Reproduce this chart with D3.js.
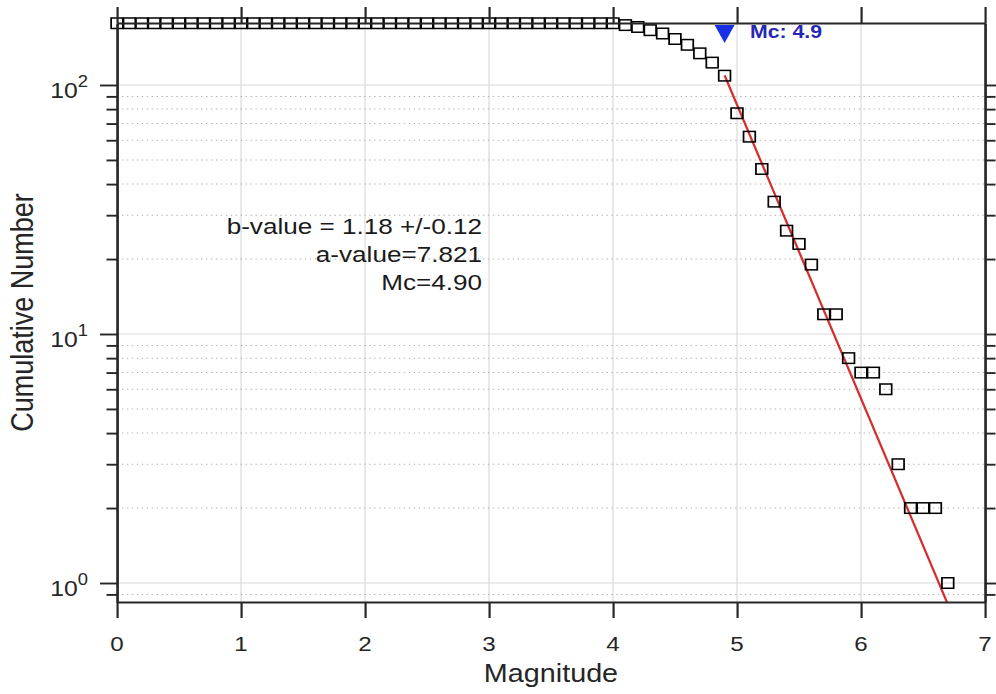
<!DOCTYPE html>
<html><head><meta charset="utf-8">
<script src="https://cdn.jsdelivr.net/npm/d3@7"></script>
<style>
html,body{margin:0;padding:0;background:#fff;}
svg{display:block;}
text{font-family:"Liberation Sans", Arial, Helvetica, sans-serif;}
</style></head><body>
<svg id="chart"></svg>
<script>
// ---------------- data ----------------
const magnitudes = [0.0,0.1,0.2,0.3,0.4,0.5,0.6,0.7,0.8,0.9,
  1.0,1.1,1.2,1.3,1.4,1.5,1.6,1.7,1.8,1.9,
  2.0,2.1,2.2,2.3,2.4,2.5,2.6,2.7,2.8,2.9,
  3.0,3.1,3.2,3.3,3.4,3.5,3.6,3.7,3.8,3.9,
  4.0,4.1,4.2,4.3,4.4,4.5,4.6,4.7,4.8,4.9,
  5.0,5.1,5.2,5.3,5.4,5.5,5.6,5.7,5.8,5.9,
  6.0,6.1,6.2,6.3,6.4,6.5,6.6,6.7];
const cumulativeCounts = [177,177,177,177,177,177,177,177,177,177,
  177,177,177,177,177,177,177,177,177,177,
  177,177,177,177,177,177,177,177,177,177,
  177,177,177,177,177,177,177,177,177,177,
  177,174,171,166,161,153,145,134,123,109,
  77,62,46,34,26,23,19,12,12,8,
  7,7,6,3,2,2,2,1];
const xTicks = [0,1,2,3,4,5,6,7];
const yMajorTicks = [1,10,100];
const yTickExponents = ["0","1","2"];
const yMinorTicks = [0.9,2,3,4,5,6,7,8,9,20,30,40,50,60,70,80,90];
const xDomain = [0,7];
const yDomain = [0.839,177.4];
const bValue = 1.18, bError = 0.12, aValue = 7.821, Mc = 4.9;
const xLabel = "Magnitude", yLabel = "Cumulative Number";

// ---------------- layout ----------------
const SX = 1.15;               // horizontal stretch of the original picture
const VW = 996, VH = 694;
const W = VW / SX;
const pL = 117 / SX, pR = 985 / SX, pT = 23, pB = 602;
const axisColor = "#262626";

const svg = d3.select("#chart")
  .attr("width", VW).attr("height", VH)
  .attr("viewBox", `0 0 ${W} ${VH}`)
  .attr("preserveAspectRatio", "none");

const x = d3.scaleLinear().domain(xDomain).range([pL, pR]);
const y = d3.scaleLog().domain(yDomain).range([pB, pT]);

// grid
const grid = svg.append("g");
grid.append("g").selectAll("line").data(xTicks.filter(d => d > xDomain[0] && d < xDomain[1]))
  .join("line").attr("x1", d => x(d)).attr("x2", d => x(d))
  .attr("y1", pT).attr("y2", pB)
  .attr("stroke", "#d9d9d9").attr("stroke-width", 1);
grid.append("g").selectAll("line").data(yMajorTicks)
  .join("line").attr("x1", pL).attr("x2", pR)
  .attr("y1", d => y(d)).attr("y2", d => y(d))
  .attr("stroke", "#d9d9d9").attr("stroke-width", 1);
grid.append("g").selectAll("line").data(yMinorTicks)
  .join("line").attr("x1", pL).attr("x2", pR)
  .attr("y1", d => y(d)).attr("y2", d => y(d))
  .attr("stroke", "#b0b0b0").attr("stroke-width", 1)
  .attr("stroke-dasharray", "1.2,3.1");

// clip
svg.append("clipPath").attr("id", "plotclip").append("rect")
  .attr("x", pL).attr("y", pT).attr("width", pR - pL).attr("height", pB - pT);

// fit line
const fitM = [Mc, xDomain[1]];
const fitLine = d3.line().x(d => x(d)).y(d => y(Math.pow(10, aValue - bValue * d)));
svg.append("path").datum(fitM).attr("d", fitLine)
  .attr("clip-path", "url(#plotclip)")
  .attr("fill", "none").attr("stroke", "#d42f2f").attr("stroke-width", 2);

// squares
const pts = magnitudes.map((m, i) => ({m, n: cumulativeCounts[i]}));
const sw = 10.2, sh = 10.5;
svg.append("g").selectAll("rect").data(pts).join("rect")
  .attr("x", d => x(d.m) - sw / 2).attr("y", d => y(d.n) - sh / 2)
  .attr("width", sw).attr("height", sh)
  .attr("fill", "none").attr("stroke", "#000").attr("stroke-width", 1.5);

// axes
function styleAxis(g) {
  g.select(".domain").attr("stroke", axisColor).attr("stroke-width", 1.9);
  g.selectAll(".tick line").attr("stroke", axisColor).attr("stroke-width", 1.9);
}
const gB = svg.append("g").attr("transform", `translate(0,${pB})`)
  .call(d3.axisBottom(x).tickValues(xTicks).tickSize(16).tickSizeOuter(0).tickFormat(""));
styleAxis(gB);
const gT = svg.append("g").attr("transform", `translate(0,${pT})`)
  .call(d3.axisTop(x).tickValues(xTicks).tickSize(16).tickSizeOuter(0).tickFormat(""));
styleAxis(gT);
const gL = svg.append("g").attr("transform", `translate(${pL},0)`)
  .call(d3.axisLeft(y).tickValues(yMajorTicks).tickSize(17 / SX).tickSizeOuter(0).tickFormat(""));
styleAxis(gL);
const gLm = svg.append("g").attr("transform", `translate(${pL},0)`)
  .call(d3.axisLeft(y).tickValues(yMinorTicks).tickSize(10.5 / SX).tickSizeOuter(0).tickFormat(""));
styleAxis(gLm);
const gR = svg.append("g").attr("transform", `translate(${pR},0)`)
  .call(d3.axisRight(y).tickValues(yMajorTicks).tickSize(17 / SX).tickSizeOuter(0).tickFormat(""));
styleAxis(gR);
const gRm = svg.append("g").attr("transform", `translate(${pR},0)`)
  .call(d3.axisRight(y).tickValues(yMinorTicks).tickSize(10.5 / SX).tickSizeOuter(0).tickFormat(""));
styleAxis(gRm);

// x tick labels
svg.append("g").selectAll("text").data(xTicks).join("text")
  .attr("x", d => x(d)).attr("y", 651.5)
  .attr("text-anchor", "middle").attr("font-size", 21).attr("fill", axisColor)
  .text(d => d);

// y tick labels (10^n)
const yl = svg.append("g").selectAll("text").data(yMajorTicks).join("text")
  .attr("x", 88 / SX).attr("y", d => y(d) + 13)
  .attr("text-anchor", "end").attr("fill", axisColor);
yl.append("tspan").attr("font-size", 21.5).text("10");
yl.append("tspan").attr("font-size", 16).attr("dy", -11)
  .text((d, i) => yTickExponents[i]);

// axis labels
svg.append("text").attr("x", (pL + pR) / 2).attr("y", 682)
  .attr("text-anchor", "middle").attr("font-size", 25).attr("fill", axisColor)
  .text(xLabel);
svg.append("text")
  .attr("transform", `translate(${33 / SX},${(pT + pB) / 2}) rotate(-90)`)
  .attr("text-anchor", "middle").attr("font-size", 27).attr("fill", axisColor)
  .text(yLabel);

// annotation
const ann = [`b-value = ${bValue.toFixed(2)} +/-${bError.toFixed(2)}`,
             `a-value=${aValue.toFixed(3)}`,
             `Mc=${Mc.toFixed(2)}`];
svg.append("g").selectAll("text").data(ann).join("text")
  .attr("x", 482 / SX).attr("y", (d, i) => 234 + i * 28)
  .attr("text-anchor", "end").attr("font-size", 22.7).attr("fill", "#1a1a1a")
  .text(d => d);

// Mc marker
const mcx = x(Mc);
svg.append("path")
  .attr("d", `M${mcx - 10 / SX},25 L${mcx + 10 / SX},25 L${mcx},43 Z`)
  .attr("fill", "#1730e6");
svg.append("text").attr("x", 750 / SX).attr("y", 38)
  .attr("font-size", 18.5).attr("font-weight", "bold").attr("fill", "#2626b3")
  .text(`Mc: ${Mc.toFixed(1)}`);
</script>
</body></html>
